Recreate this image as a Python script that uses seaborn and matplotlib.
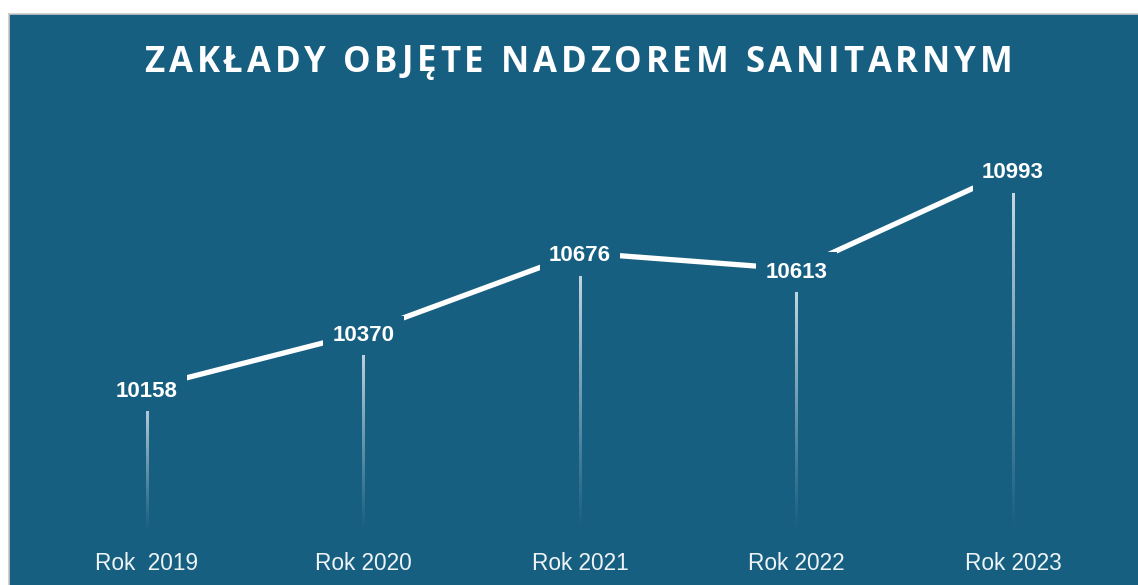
import numpy as np
import matplotlib
matplotlib.use("Agg")
import matplotlib.pyplot as plt
import seaborn as sns
from matplotlib.colors import to_rgba

# --- data -------------------------------------------------------------
years = ["Rok  2019", "Rok 2020", "Rok 2021", "Rok 2022", "Rok 2023"]
counts = [10158, 10370, 10676, 10613, 10993]
title = "ZAKŁADY OBJĘTE NADZOREM SANITARNYM"

# --- style ------------------------------------------------------------
BG = "#175f80"
BORDER = "#c8c8c8"
W, H, DPI = 1138, 585, 100

sns.set_theme(style="white")
plt.rcParams["font.family"] = ["Liberation Sans", "DejaVu Sans"]

fig = plt.figure(figsize=(W / DPI, H / DPI), dpi=DPI, facecolor="white")
panel_left, panel_top = 9, 14
ax = fig.add_axes([panel_left / W, 0, 1 - panel_left / W, 1 - panel_top / H])
ax.set_facecolor(BG)
for side in ("right", "bottom"):
    ax.spines[side].set_visible(False)
for side in ("top", "left"):
    ax.spines[side].set_color(BORDER)
    ax.spines[side].set_linewidth(1.2)

pos = np.arange(len(counts))
xlim = (-0.637, 4.577)
ylim = (9403.5, 11590)

# main trend line
sns.lineplot(x=pos, y=counts, color="white", linewidth=3.8, ax=ax, zorder=2,
             solid_capstyle="butt")

# fading drop lines under each point (vertical alpha gradient)
y_base = ylim[0] + 0.095 * (ylim[1] - ylim[0])
half_w = 1.05 * (xlim[1] - xlim[0]) / (W - panel_left)
n_px = 256
grad = np.zeros((n_px, 1, 4))
grad[:, 0, :3] = to_rgba("#e6eef3")[:3]
grad[:, 0, 3] = 0.92 * (1 - np.linspace(0, 1, n_px)) ** 1.1
for x, v in zip(pos, counts):
    ax.imshow(grad, extent=[x - half_w, x + half_w, y_base, v], origin="upper",
              aspect="auto", interpolation="bilinear", zorder=1)

ax.set_xlim(*xlim)
ax.set_ylim(*ylim)

# value labels sitting on the line
for x, v in zip(pos, counts):
    ax.annotate(f"{v}", xy=(x, v), xytext=(0, -2.2), textcoords="offset points",
                ha="center", va="center", fontsize=16,
                fontweight="bold", color="white", zorder=4,
                bbox=dict(boxstyle="square,pad=0.42", fc=BG, ec="none"))

ax.set_yticks([])
ax.set_xticks(pos, years)
ax.tick_params(axis="x", length=0, pad=-24, labelsize=16.3, labelcolor="#eef3f6")
ax.set_xlabel("")
ax.set_ylabel("")

# letter-spaced title
fig.canvas.draw()
renderer = fig.canvas.get_renderer()
tkw = dict(fontsize=25, fontweight="bold", family=["Open Sans", "DejaVu Sans"],
           color="white")


def text_width(s):
    t = fig.text(0, 0, s, **tkw)
    w = t.get_window_extent(renderer).width
    t.remove()
    return w


base = text_width("H")
advances = [text_width("H" + ch) - base for ch in title]
tracking = 3.85
total = sum(advances) + tracking * (len(title) - 1)
x_px = 578.5 - total / 2
y_frac = 1 - 71.5 / H
for ch, adv in zip(title, advances):
    fig.text(x_px / W, y_frac, ch, ha="left", va="baseline", **tkw)
    x_px += adv + tracking

fig.savefig("out.png", dpi=DPI, facecolor="white")
